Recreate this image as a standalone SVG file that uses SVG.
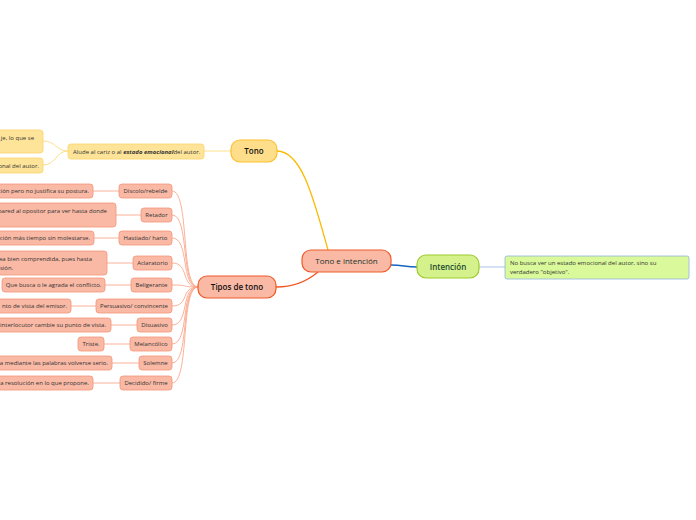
<svg xmlns="http://www.w3.org/2000/svg" width="696" height="520" viewBox="0 0 696 520">
<style>
text{font-family:"Open Sans","Noto Sans","DejaVu Sans",sans-serif;}
.s{font-size:6px;fill:#333;}
.m{font-size:8px;}
.yb{fill:#fee498;stroke:#fcd36b;stroke-width:0.8;}
.rb{fill:#f9b9a5;stroke:#f4957a;stroke-width:0.8;}
.c-y{fill:none;stroke:#fde08a;stroke-width:1;}
.c-r{fill:none;stroke:#f9a88c;stroke-width:0.9;}
</style>
<rect width="696" height="520" fill="#fff"/>
<g id="connectors">
<path d="M277,151 C302,151 314,200 328,250" fill="none" stroke="#fbb900" stroke-width="1.3"/>
<path d="M318,272 C305,283 292,287 276,287" fill="none" stroke="#f05a28" stroke-width="1.3"/>
<path d="M391,265 C403,265 405,267 417,267" fill="none" stroke="#1565c0" stroke-width="1.3"/>
<path d="M479,267 L505,267" fill="none" stroke="#a9c4e8" stroke-width="1"/>
<path d="M204,151 L231,151" class="c-y"/>
<path d="M68,151 C56,151 56,141 43,141" class="c-y"/>
<path d="M68,151 C56,151 56,165 43,165" class="c-y"/>
<path d="M198,287 C180,287 190,191 172,191" class="c-r"/>
<path d="M198,287 C180,287 190,215 172,215" class="c-r"/>
<path d="M198,287 C180,287 190,238 172,238" class="c-r"/>
<path d="M198,287 C180,287 190,263 172,263" class="c-r"/>
<path d="M198,287 C180,287 190,285 172,285" class="c-r"/>
<path d="M198,287 C180,287 190,306 172,306" class="c-r"/>
<path d="M198,287 C180,287 190,325 172,325" class="c-r"/>
<path d="M198,287 C180,287 190,344 172,344" class="c-r"/>
<path d="M198,287 C180,287 190,363 172,363" class="c-r"/>
<path d="M198,287 C180,287 190,383 172,383" class="c-r"/>
<path d="M93,191 L119,191" class="c-r"/>
<path d="M116,215 L141,215" class="c-r"/>
<path d="M94,238 L119,238" class="c-r"/>
<path d="M107,263 L133,263" class="c-r"/>
<path d="M105,285 L131,285" class="c-r"/>
<path d="M71,306 L96,306" class="c-r"/>
<path d="M111,325 L137,325" class="c-r"/>
<path d="M104,344 L130,344" class="c-r"/>
<path d="M112,363 L139,363" class="c-r"/>
<path d="M93,383 L120,383" class="c-r"/>
</g>
<g id="central">
<rect x="302" y="250" width="89" height="22" rx="9" fill="#f9b9a5" stroke="#f05a28" stroke-width="1.2"/>
<text x="346.5" y="264" class="m" text-anchor="middle" fill="#14332a">Tono e intención</text>
</g>
<g id="tono">
<rect x="231" y="140" width="46" height="22" rx="9" fill="#fede8a" stroke="#fbc02d" stroke-width="1.2"/>
<text x="254" y="154" class="m" text-anchor="middle" fill="#111" font-weight="600">Tono</text>
</g>
<g id="tipos">
<rect x="198" y="276" width="78" height="22" rx="9" fill="#f9b9a5" stroke="#f05a28" stroke-width="1.2"/>
<text x="237" y="290" class="m" text-anchor="middle" fill="#111" font-weight="600">Tipos de tono</text>
</g>
<g id="intencion">
<rect x="417" y="255" width="62" height="23" rx="9" fill="#d4f18c" stroke="#9ccc2d" stroke-width="1.2"/>
<text x="448" y="269.5" class="m" text-anchor="middle" fill="#1b4a2e" font-weight="600">Intención</text>
</g>
<g id="intencion-desc">
<rect x="505" y="256" width="184" height="23" rx="2" fill="#d9f99a" stroke="#8fb2dd" stroke-width="0.8"/>
<text x="510" y="264.5" class="s">No busca ver un estado emocional  del autor, sino su</text>
<text x="510" y="273.5" class="s">verdadero "objetivo".</text>
</g>
<g id="alude">
<rect x="68" y="144" width="136" height="15" rx="3" class="yb"/>
<text x="73" y="153.5" class="s">Alude al cariz o al <tspan font-weight="700" font-style="italic">estado emocional</tspan>del autor.</text>
</g>
<g id="tono-c1">
<rect x="-10" y="130" width="53" height="23" rx="3" class="yb"/>
<text x="34" y="139.5" class="s" text-anchor="end">je, lo que se</text>
</g>
<g id="tono-c2">
<rect x="-10" y="158" width="53" height="15" rx="3" class="yb"/>
<text x="39" y="167.5" class="s" text-anchor="end">onal del autor.</text>
</g>
<g id="discolo">
<rect x="119" y="184" width="53" height="14" rx="3" class="rb"/>
<text x="145.5" y="193" class="s" text-anchor="middle">Díscolo/rebelde</text>
</g>
<g id="discolo-d">
<rect x="-10" y="184" width="103" height="14" rx="3" class="rb"/>
<text x="89" y="193" class="s" text-anchor="end">ción pero no justifica su postura.</text>
</g>
<g id="retador">
<rect x="141" y="208" width="31" height="14" rx="3" class="rb"/>
<text x="156.5" y="217" class="s" text-anchor="middle">Retador</text>
</g>
<g id="retador-d">
<rect x="-10" y="203" width="126" height="24" rx="3" class="rb"/>
<text x="107" y="212.5" class="s" text-anchor="end">pared al opositor para ver hasta donde</text>
</g>
<g id="hastiado">
<rect x="119" y="231" width="53" height="14" rx="3" class="rb"/>
<text x="145.5" y="240" class="s" text-anchor="middle">Hastiado/ harto</text>
</g>
<g id="hastiado-d">
<rect x="-10" y="231" width="104" height="14" rx="3" class="rb"/>
<text x="90" y="240" class="s" text-anchor="end">ción más tiempo sin molestarse.</text>
</g>
<g id="aclaratorio">
<rect x="133" y="256" width="39" height="14" rx="3" class="rb"/>
<text x="152.5" y="265" class="s" text-anchor="middle">Aclaratorio</text>
</g>
<g id="aclaratorio-d">
<rect x="-10" y="251" width="117" height="24" rx="3" class="rb"/>
<text x="92" y="260.5" class="s" text-anchor="end">ea bien comprendida, pues hasta</text>
<text x="0" y="269.5" class="s">sión.</text>
</g>
<g id="beligerante">
<rect x="131" y="278" width="41" height="14" rx="3" class="rb"/>
<text x="151.5" y="287" class="s" text-anchor="middle">Beligerante</text>
</g>
<g id="beligerante-d">
<rect x="2" y="278" width="103" height="14" rx="3" class="rb"/>
<text x="53.5" y="287" class="s" text-anchor="middle">Que busca o le agrada el conflicto.</text>
</g>
<g id="persuasivo">
<rect x="96" y="299" width="76" height="14" rx="3" class="rb"/>
<text x="134" y="308" class="s" text-anchor="middle">Persuasivo/ convincente</text>
</g>
<g id="persuasivo-d">
<rect x="-10" y="299" width="81" height="14" rx="3" class="rb"/>
<text x="67" y="308" class="s" text-anchor="end">nto de vista del emisor.</text>
</g>
<g id="disuasivo">
<rect x="137" y="318" width="35" height="14" rx="3" class="rb"/>
<text x="154.5" y="327" class="s" text-anchor="middle">Disuasivo</text>
</g>
<g id="disuasivo-d">
<rect x="-10" y="318" width="121" height="14" rx="3" class="rb"/>
<text x="106" y="327" class="s" text-anchor="end">interlocutor cambie su punto de vista.</text>
</g>
<g id="melancolico">
<rect x="130" y="337" width="42" height="14" rx="3" class="rb"/>
<text x="151" y="346" class="s" text-anchor="middle">Melancólico</text>
</g>
<g id="melancolico-d">
<rect x="78" y="337" width="26" height="14" rx="3" class="rb"/>
<text x="91" y="346" class="s" text-anchor="middle">Triste.</text>
</g>
<g id="solemne">
<rect x="139" y="356" width="33" height="14" rx="3" class="rb"/>
<text x="155.5" y="365" class="s" text-anchor="middle">Solemne</text>
</g>
<g id="solemne-d">
<rect x="-10" y="356" width="122" height="14" rx="3" class="rb"/>
<text x="108" y="365" class="s" text-anchor="end">a mediante las palabras volverse serio.</text>
</g>
<g id="decidido">
<rect x="120" y="376" width="52" height="14" rx="3" class="rb"/>
<text x="146" y="385" class="s" text-anchor="middle">Decidido/ firme</text>
</g>
<g id="decidido-d">
<rect x="-10" y="376" width="103" height="14" rx="3" class="rb"/>
<text x="89" y="385" class="s" text-anchor="end">ra resolución en lo que propone.</text>
</g>
</svg>
